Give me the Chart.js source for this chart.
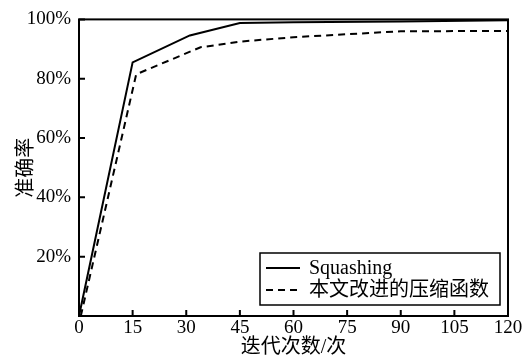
<!DOCTYPE html>
<html>
<head>
<meta charset="utf-8">
<script src="https://cdn.jsdelivr.net/npm/chart.js@4/dist/chart.umd.min.js"></script>
<style>
  html, body { margin: 0; padding: 0; background: #fff; }
  #wrap { width: 529px; height: 357px; }
</style>
</head>
<body>
<div id="wrap"><canvas id="accChart"></canvas></div>
<script>
// iterations (x) and accuracy in % (y)
const squashingX = [0, 15, 31, 45, 60, 90, 120];
const squashingY = [0, 85.5, 94.6, 98.8, 99.0, 99.3, 99.7];
const improvedX = [0.5, 16, 34, 45, 60, 90, 120];
const improvedY = [0, 81.5, 90.6, 92.5, 94.0, 96.0, 96.1];
const seriesLabels = ['Squashing', '本文改进的压缩函数'];
const xTitle = '迭代次数/次';
const yTitle = '准确率';

const serif = '"Liberation Serif", "Noto Sans CJK SC", serif';

function toPoints(xs, ys) {
  return xs.map((x, i) => ({ x, y: ys[i] }));
}

// frame, inward tick marks and the boxed legend
const framePlugin = {
  id: 'frame',
  afterDraw(chart) {
    const { ctx, chartArea: a, scales } = chart;
    ctx.save();
    ctx.strokeStyle = '#000';
    ctx.lineWidth = 2;
    ctx.strokeRect(a.left, a.top, a.right - a.left, a.bottom - a.top);
    ctx.beginPath();
    scales.x.ticks.forEach(t => {
      const px = scales.x.getPixelForValue(t.value);
      ctx.moveTo(px, a.bottom);
      ctx.lineTo(px, a.bottom - 6);
    });
    scales.y.ticks.forEach(t => {
      const py = scales.y.getPixelForValue(t.value);
      ctx.moveTo(a.left, py);
      ctx.lineTo(a.left + 6, py);
    });
    ctx.stroke();

    // legend box
    const bx = 260, by = 253, bw = 240, bh = 52;
    ctx.fillStyle = '#fff';
    ctx.fillRect(bx, by, bw, bh);
    ctx.lineWidth = 1.5;
    ctx.strokeRect(bx, by, bw, bh);
    const rows = [268, 290];
    chart.data.datasets.forEach((ds, i) => {
      ctx.beginPath();
      ctx.lineWidth = 1.8;
      ctx.setLineDash(ds.borderDash || []);
      ctx.moveTo(266, rows[i]);
      ctx.lineTo(300, rows[i]);
      ctx.stroke();
      ctx.setLineDash([]);
      ctx.fillStyle = '#000';
      ctx.font = '20px ' + serif;
      ctx.textBaseline = 'middle';
      ctx.textAlign = 'left';
      ctx.fillText(ds.label, 309, rows[i] + 1);
    });
    ctx.restore();
  }
};

const ctx = document.getElementById('accChart').getContext('2d');
new Chart(ctx, {
  type: 'line',
  data: {
    datasets: [
      {
        label: seriesLabels[0],
        data: toPoints(squashingX, squashingY),
        borderColor: '#000',
        borderWidth: 2,
        pointRadius: 0,
        tension: 0,
        fill: false,
        clip: false
      },
      {
        label: seriesLabels[1],
        data: toPoints(improvedX, improvedY),
        borderColor: '#000',
        borderWidth: 2,
        borderDash: [7, 5],
        pointRadius: 0,
        tension: 0,
        fill: false,
        clip: false
      }
    ]
  },
  options: {
    responsive: true,
    maintainAspectRatio: false,
    animation: false,
    layout: { padding: { top: 16, right: 21, left: 0, bottom: 0 } },
    scales: {
      x: {
        type: 'linear',
        min: 0,
        max: 120,
        grid: { display: false, drawTicks: false, tickLength: 0 },
        border: { display: false },
        ticks: {
          stepSize: 15,
          color: '#000',
          padding: 3,
          font: { family: serif, size: 19, lineHeight: 1 },
          maxRotation: 0
        },
        title: {
          display: true,
          text: xTitle,
          color: '#000',
          font: { family: serif, size: 20, lineHeight: 0.9 },
          padding: 0
        },
        afterFit: s => { s.height = 41; }
      },
      y: {
        min: 0,
        max: 100,
        grid: { display: false, drawTicks: false, tickLength: 0 },
        border: { display: false },
        ticks: {
          stepSize: 20,
          color: '#000',
          padding: 8,
          font: { family: serif, size: 19 },
          callback: v => (v === 0 ? '' : v + '%')
        },
        title: {
          display: true,
          text: yTitle,
          color: '#000',
          font: { family: serif, size: 20, lineHeight: 1.1 },
          padding: { top: 16, bottom: 0 }
        },
        afterFit: s => { s.width = 79; }
      }
    },
    plugins: {
      legend: { display: false },
      tooltip: { enabled: false }
    }
  },
  plugins: [framePlugin]
});
</script>
</body>
</html>
